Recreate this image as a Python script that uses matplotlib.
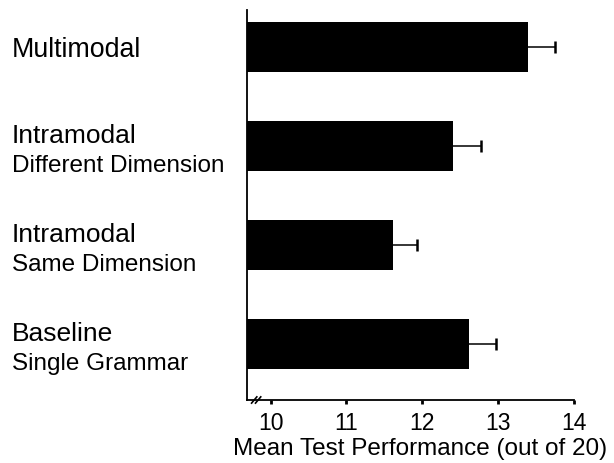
import matplotlib
matplotlib.use('Agg')
import matplotlib.pyplot as plt
from matplotlib.transforms import blended_transform_factory

plt.rcParams['font.family'] = ['Liberation Sans', 'DejaVu Sans']

# data
main_labels = ['Multimodal', 'Intramodal', 'Intramodal', 'Baseline']
sub_labels = ['', 'Different Dimension', 'Same Dimension', 'Single Grammar']
means = [13.39, 12.41, 11.62, 12.61]
errors = [0.36, 0.36, 0.31, 0.36]
xticks = [10, 11, 12, 13, 14]

fig = plt.figure(figsize=(6.14, 4.64), dpi=100)
ax = fig.add_axes([0.4023, 0.1358, 0.5326, 0.8405])

ypos = list(range(len(means)))
xmin = 9.69
ax.barh(ypos, [m - xmin for m in means], left=xmin, height=0.505,
        color='black', zorder=2)
# symmetric bars drawn under the bars, so only the upper half shows
ax.errorbar(means, ypos, xerr=errors, fmt='none',
            ecolor='black', elinewidth=1.1, capsize=4.5, capthick=1.8, zorder=1)

ax.set_xlim(xmin, 14)
ax.set_ylim(3.566, -0.374)
ax.set_xticks(xticks)
ax.set_xticklabels([str(t) for t in xticks], fontsize=16.5)
ax.set_yticks([])
ax.tick_params(axis='x', direction='out', length=3, width=2, pad=5)
ax.set_xlabel('Mean Test Performance (out of 20)', fontsize=17.5)
ax.xaxis.set_label_coords(0.529, -0.096)

for s in ['top', 'right']:
    ax.spines[s].set_visible(False)
ax.spines['left'].set_linewidth(1.3)
ax.spines['bottom'].set_linewidth(1.3)

# category labels on the left
tr = blended_transform_factory(fig.transFigure, ax.transData)
for i, (m, s) in enumerate(zip(main_labels, sub_labels)):
    if s:
        ax.text(0.0195, i - 0.04, m, transform=tr, fontsize=19, va='baseline', ha='left')
        ax.text(0.0195, i + 0.25, s, transform=tr, fontsize=17.5, va='baseline', ha='left')
    else:
        ax.text(0.0195, i + 0.09, m, transform=tr, fontsize=19.3, va='baseline', ha='left')

# axis break mark
bt = ax.transAxes
for dx in [0.022, 0.034]:
    ax.plot([dx - 0.008, dx + 0.008], [-0.008, 0.008], transform=bt,
            color='black', lw=1.2, clip_on=False)

fig.savefig('out.png', dpi=100)
